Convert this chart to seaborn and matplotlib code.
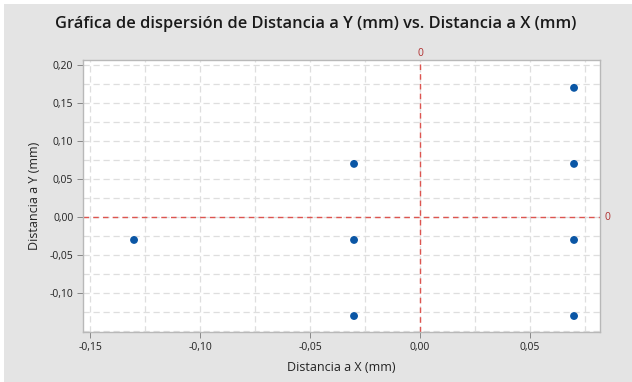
import numpy as np
import pandas as pd
import seaborn as sns
import matplotlib.pyplot as plt
from matplotlib.patches import Rectangle
from matplotlib.ticker import FuncFormatter, MultipleLocator

# data
dist_x = [-0.13, -0.03, -0.03, -0.03, 0.07, 0.07, 0.07, 0.07]
dist_y = [-0.03, 0.07, -0.03, -0.13, 0.17, 0.07, -0.03, -0.13]
x_ticks = [-0.15, -0.10, -0.05, 0.00, 0.05]
y_ticks = [-0.10, -0.05, 0.00, 0.05, 0.10, 0.15, 0.20]

df = pd.DataFrame({"x": dist_x, "y": dist_y})

sns.set_theme(style="white")
plt.rcParams['font.family'] = ['Open Sans', 'DejaVu Sans']

fig = plt.figure(figsize=(6.32, 3.82), dpi=100)
fig.patch.set_facecolor("#e4e4e4")
# thin white strip along top and left like the screenshot
fig.patches.append(Rectangle((0, 1 - 4/382), 1, 4/382, transform=fig.transFigure,
                             facecolor="white", edgecolor="none", zorder=0))
fig.patches.append(Rectangle((0, 0), 4/632, 1, transform=fig.transFigure,
                             facecolor="white", edgecolor="none", zorder=0))

ax = fig.add_axes([83/632, 1 - 332/382, (600 - 83)/632, (332 - 60)/382])
ax.set_facecolor("white")

sns.scatterplot(data=df, x="x", y="y", ax=ax, color="#0a56a5", s=32,
                edgecolor="none", zorder=3)

ax.set_xlim(-0.1532, 0.0818)
ax.set_ylim(-0.151, 0.2066)
ax.set_xticks(x_ticks)
ax.set_yticks(y_ticks)
ax.xaxis.set_minor_locator(MultipleLocator(0.025))
ax.yaxis.set_minor_locator(MultipleLocator(0.025))

fmt = FuncFormatter(lambda v, p: f"{v:.2f}".replace(".", ",").replace("-0,00", "0,00"))
ax.xaxis.set_major_formatter(fmt)
ax.yaxis.set_major_formatter(fmt)

ax.grid(which="both", color="#dedede", linestyle=(0, (5, 3)), linewidth=0.9, zorder=0)
ax.set_axisbelow(True)
ax.tick_params(which="major", direction="out", length=4, width=0.7, color="#888888",
               labelsize=7.5, labelcolor="#222222", pad=3, bottom=True, left=True)
ax.tick_params(which="minor", length=0)
for s in ax.spines.values():
    s.set_color("#b8b8b8")
    s.set_linewidth(1.0)

ax.axvline(0, color="#dd5550", linestyle=(0, (4, 3)), linewidth=1.0, zorder=2)
ax.axhline(0, color="#dd5550", linestyle=(0, (4, 3)), linewidth=1.0, zorder=2)
ax.text(0, 1.005, "0", transform=ax.get_xaxis_transform(), color="#b03030",
        fontsize=7.5, ha="center", va="bottom")
ax.text(1.008, 0, "0", transform=ax.get_yaxis_transform(), color="#b03030",
        fontsize=7.5, ha="left", va="center")

ax.set_xlabel("Distancia a X (mm)", fontsize=9, color="#222222", labelpad=6)
ax.set_ylabel("Distancia a Y (mm)", fontsize=9, color="#222222", labelpad=6)
fig.suptitle("Gráfica de dispersión de Distancia a Y (mm) vs. Distancia a X (mm)",
             x=0.5, y=1 - 24/382, va="center", fontsize=11.8, fontweight="semibold",
             color="#1a1a1a")

fig.savefig("out.png", dpi=100, facecolor=fig.get_facecolor())
